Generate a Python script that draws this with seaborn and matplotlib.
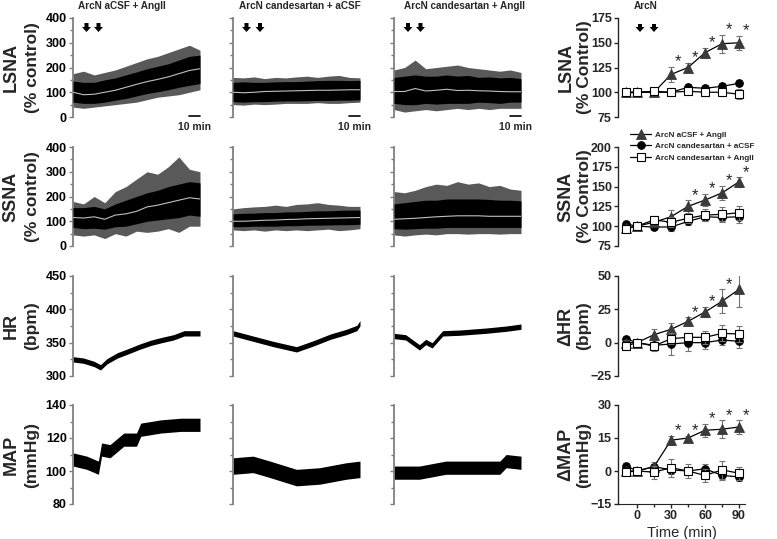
import numpy as np
import matplotlib
matplotlib.use("Agg")
import matplotlib.pyplot as plt
from matplotlib.patches import Polygon
from matplotlib.lines import Line2D
import seaborn as sns

sns.set_style("ticks")
plt.rcParams["font.family"] = ["Liberation Sans", "DejaVu Sans"]
plt.rcParams["font.weight"] = "bold"

#****************************************
# Raw recordings (minutes): mean line + envelopes
t_nerve = [0, 10, 20, 30, 40, 50, 60, 70, 80, 90, 100, 110, 120]

lsna_mean = [[100, 90, 92, 100, 108, 120, 132, 143, 152, 162, 175, 188, 195],
             [100, 98, 100, 103, 104, 105, 106, 107, 108, 108, 109, 110, 110],
             [103, 103, 115, 105, 108, 112, 107, 108, 106, 105, 103, 102, 102]]
lsna_lo = [[60, 55, 55, 60, 68, 75, 85, 95, 102, 110, 120, 128, 135],
           [62, 60, 62, 62, 64, 65, 65, 66, 67, 67, 68, 68, 70],
           [55, 50, 50, 55, 52, 55, 55, 55, 60, 58, 55, 60, 60]]
lsna_hi = [[145, 140, 140, 150, 158, 170, 182, 195, 205, 215, 230, 245, 250],
           [140, 142, 140, 140, 142, 143, 143, 145, 147, 148, 148, 147, 148],
           [160, 165, 170, 165, 165, 170, 165, 168, 160, 162, 158, 160, 155]]
lsna_min = [[40, 35, 40, 45, 50, 55, 60, 70, 80, 85, 90, 100, 110],
            [50, 48, 52, 50, 52, 55, 55, 55, 58, 55, 55, 58, 60],
            [30, 20, 25, 30, 25, 30, 35, 30, 35, 30, 35, 35, 35]]
lsna_max = [[175, 185, 170, 180, 190, 205, 220, 235, 245, 260, 275, 290, 270],
            [160, 158, 162, 155, 160, 158, 162, 165, 160, 165, 168, 160, 158],
            [190, 200, 230, 195, 200, 205, 210, 200, 195, 190, 185, 190, 180]]

ssna_mean = [[115, 113, 118, 108, 125, 130, 140, 158, 165, 175, 185, 195, 190],
             [100, 100, 102, 104, 105, 107, 108, 110, 111, 112, 113, 114, 115],
             [108, 110, 112, 115, 118, 120, 122, 122, 122, 120, 120, 120, 120]]
ssna_lo = [[75, 70, 72, 68, 78, 80, 90, 100, 105, 110, 115, 125, 120],
           [78, 78, 80, 80, 80, 82, 82, 84, 84, 85, 86, 86, 88],
           [70, 68, 70, 72, 72, 75, 75, 75, 75, 75, 75, 75, 75]]
ssna_hi = [[155, 155, 160, 150, 170, 185, 200, 215, 225, 240, 250, 260, 255],
           [130, 132, 133, 135, 135, 138, 138, 140, 142, 142, 144, 145, 145],
           [170, 175, 180, 185, 185, 190, 190, 190, 190, 188, 185, 185, 182]]
ssna_min = [[45, 40, 45, 30, 50, 40, 60, 55, 60, 70, 55, 80, 80],
            [65, 62, 65, 60, 65, 62, 65, 62, 65, 68, 62, 65, 70],
            [45, 40, 45, 48, 45, 50, 50, 48, 50, 50, 48, 50, 50]]
ssna_max = [[180, 170, 200, 175, 220, 240, 270, 300, 290, 320, 360, 310, 300],
            [150, 155, 158, 160, 165, 160, 168, 170, 175, 168, 165, 160, 160],
            [220, 215, 225, 240, 250, 245, 260, 250, 255, 240, 245, 230, 225]]

hr_t = [[0, 10, 20, 26, 32, 42, 52, 63, 74, 84, 95, 105, 120],
        [0, 19, 38, 60, 76, 92, 107, 117, 120],
        [0, 11, 24, 30, 36, 46, 62, 87, 106, 120]]
hr_val = [[325, 323, 318, 313, 322, 331, 337, 344, 350, 354, 358, 364, 364],
          [364, 356, 348, 340, 349, 359, 366, 372, 379],
          [360, 358, 343, 351, 346, 364, 365, 368, 371, 374]]
hr_half = 4

map_t = [[0, 13, 24, 27, 35, 48, 60, 64, 83, 102, 120],
         [0, 19, 35, 60, 82, 107, 120],
         [0, 24, 49, 71, 100, 106, 120]]
map_val = [[107, 105, 102, 113, 112, 119, 119, 125, 127, 128, 128],
           [103, 104, 101, 96, 97, 100, 101],
           [99, 99, 102, 102, 102, 106, 105]]
map_half = [4, 5, 4]

#****************************************
# Group data (mean +/- SEM)
time = [-10, 0, 15, 30, 45, 60, 75, 90]

lsna_tri = [100, 100, 100, 118, 125, 140, 149, 150]
lsna_tri_sem = [2, 2, 3, 8, 5, 5, 9, 7]
lsna_circ = [99, 100, 100, 100, 105, 104, 106, 109]
lsna_circ_sem = [2, 2, 2, 2, 3, 3, 3, 3]
lsna_sq = [100, 100, 101, 100, 101, 100, 100, 98]
lsna_sq_sem = [2, 2, 3, 3, 3, 4, 4, 5]

ssna_tri = [98, 100, 105, 112, 125, 133, 142, 156]
ssna_tri_sem = [3, 3, 5, 9, 8, 8, 9, 6]
ssna_circ = [103, 100, 99, 99, 106, 112, 111, 112]
ssna_circ_sem = [3, 3, 4, 5, 4, 6, 6, 8]
ssna_sq = [97, 100, 108, 105, 110, 114, 115, 117]
ssna_sq_sem = [4, 3, 5, 6, 6, 8, 9, 9]

hr_tri = [0, 0, 6, 10, 16, 23, 31, 40]
hr_tri_sem = [2, 2, 4, 5, 3, 4, 9, 13]
hr_circ = [3, 0, -2, -1, 0, 0, 2, 1]
hr_circ_sem = [2, 2, 4, 8, 6, 5, 4, 5]
hr_sq = [-2.5, 0, -2.5, 3, 4, 4, 7, 6.5]
hr_sq_sem = [2, 2, 3, 4, 3, 5, 6, 6]

map_tri = [0, 0, 2, 14, 15, 18.5, 19, 20]
map_tri_sem = [1, 1, 2, 2, 1, 3, 4, 3]
map_circ = [2.5, 0, 2, 0.5, 0, 1, -2, -2.7]
map_circ_sem = [1, 1, 1, 2, 2, 2, 2, 2]
map_sq = [-0.5, 0, -0.5, 1.5, 0, -2, 0.5, -1]
map_sq_sem = [1, 1, 3, 4, 3, 3, 4, 3]

star_times = [[30, 45, 60, 75, 90], [45, 60, 75, 90], [45, 60, 75, 90], [30, 45, 60, 75, 90]]

titles = ["ArcN aCSF + AngII", "ArcN candesartan + aCSF", "ArcN candesartan + AngII"]
legend_labels = ["ArcN aCSF + AngII", "ArcN candesartan + aCSF", "ArcN candesartan + AngII"]
left_labels = [("LSNA", "(% control)"), ("SSNA", "(% control)"), ("HR", "(bpm)"), ("MAP", "(mmHg)")]
right_labels = [("LSNA", "(% Control)"), ("SSNA", "(% Control)"), ("\u0394HR", "(bpm)"), ("\u0394MAP", "(mmHg)")]

#****************************************
W, H = 777, 539
fig = plt.figure(figsize=(W / 100, H / 100), dpi=100)


def px_ax(x0, x1, y0, y1):
    return fig.add_axes([x0 / W, 1 - y1 / H, (x1 - x0) / W, (y1 - y0) / H])


def arrow(xc, ytop, ybot, shaft=4, head_w=9, head_l=5):
    pts = [(xc - shaft / 2, ytop), (xc + shaft / 2, ytop), (xc + shaft / 2, ybot - head_l),
           (xc + head_w / 2, ybot - head_l), (xc, ybot), (xc - head_w / 2, ybot - head_l),
           (xc - shaft / 2, ybot - head_l)]
    fig.add_artist(Polygon([(x / W, 1 - y / H) for x, y in pts], closed=True,
                           transform=fig.transFigure, color="black", lw=0))


col_x = [(73, 200), (233, 360), (394, 521)]
rows_y = [(18, 117), (147, 246), (276, 376), (405, 504)]
trace_lims = [(0, 400, 100, 50), (0, 400, 100, 50), (300, 450, 50, 25), (80, 140, 20, 10)]
GRAY = "#7f7f7f"

for c, (x0, x1) in enumerate(col_x):
    for r, (y0, y1) in enumerate(rows_y):
        ax = px_ax(x0, x1, y0, y1)
        if r == 0:
            sns.lineplot(x=t_nerve, y=lsna_mean[c], color="0.75", lw=0.8, ax=ax, zorder=4)
            ax.fill_between(t_nerve, lsna_min[c], lsna_max[c], color="0.35", lw=0, zorder=2)
            ax.fill_between(t_nerve, lsna_lo[c], lsna_hi[c], color="black", lw=0, zorder=3)
        elif r == 1:
            sns.lineplot(x=t_nerve, y=ssna_mean[c], color="0.75", lw=0.8, ax=ax, zorder=4)
            ax.fill_between(t_nerve, ssna_min[c], ssna_max[c], color="0.35", lw=0, zorder=2)
            ax.fill_between(t_nerve, ssna_lo[c], ssna_hi[c], color="black", lw=0, zorder=3)
        elif r == 2:
            v = np.array(hr_val[c])
            ax.fill_between(hr_t[c], v - hr_half, v + hr_half, color="black", lw=0)
        else:
            v = np.array(map_val[c])
            ax.fill_between(map_t[c], v - map_half[c], v + map_half[c], color="black", lw=0)
        lo, hi, major, minor = trace_lims[r]
        ax.set_xlim(0, 120)
        ax.set_ylim(lo, hi)
        ax.set_yticks(np.arange(lo, hi + 1, major))
        ax.set_yticks(np.arange(lo, hi + 1, minor), minor=True)
        ax.set_xticks([])
        for s in ["top", "right", "bottom"]:
            ax.spines[s].set_visible(False)
        ax.spines["left"].set_color(GRAY)
        ax.spines["left"].set_linewidth(1.3)
        ax.tick_params(axis="y", which="both", colors=GRAY, labelcolor="black",
                       direction="out", labelsize=9, length=3, width=1, pad=1.5)
        ax.tick_params(axis="y", which="minor", length=2)
        if c > 0:
            ax.tick_params(labelleft=False)
        ax.set_xlabel("")
        ax.set_ylabel("")
        if r == 0:
            # 10 min scale bar
            ax.plot([110, 120], [0.012, 0.012], color="black", lw=1.2,
                    transform=ax.get_xaxis_transform(), clip_on=False)
            ax.text(115, -0.1, "10 min", ha="center", va="center", fontsize=7.5,
                    transform=ax.get_xaxis_transform())

# column titles and arrows
for cx, title in zip([122, 300, 465], titles):
    fig.text(cx / W, 1 - 6 / H, title, ha="center", va="center", fontsize=7.2)
for xa in [86.5, 98.5, 246.5, 260, 408, 420.5]:
    arrow(xa, 23, 32)
fig.text(646 / W, 1 - 6 / H, "ArcN", ha="center", va="center", fontsize=7.2)
for xa in [640, 654]:
    arrow(xa, 24, 32)

#****************************************
# Right-hand group panels
right_data = [(lsna_tri, lsna_tri_sem, lsna_circ, lsna_circ_sem, lsna_sq, lsna_sq_sem),
              (ssna_tri, ssna_tri_sem, ssna_circ, ssna_circ_sem, ssna_sq, ssna_sq_sem),
              (hr_tri, hr_tri_sem, hr_circ, hr_circ_sem, hr_sq, hr_sq_sem),
              (map_tri, map_tri_sem, map_circ, map_circ_sem, map_sq, map_sq_sem)]
right_lims = [(75, 175, 25), (75, 200, 25), (-25, 50, 25), (-15, 30, 15)]

tri_kw = dict(marker="^", markersize=7.2, markerfacecolor="#3a3a3a", markeredgecolor="#3a3a3a", mew=0.6)
circ_kw = dict(marker="o", markersize=5.6, markerfacecolor="black", markeredgecolor="black", mew=0.6)
sq_kw = dict(marker="s", markersize=5.2, markerfacecolor="white", markeredgecolor="black", mew=0.8)

for r, (y0, y1) in enumerate(rows_y):
    ax = px_ax(618, 745, y0, y1)
    tri, tri_e, circ, circ_e, sq, sq_e = right_data[r]
    for vals, errs, kw, z in [(circ, circ_e, circ_kw, 3), (tri, tri_e, tri_kw, 4), (sq, sq_e, sq_kw, 5)]:
        ax.errorbar(time, vals, yerr=errs, fmt="none", ecolor="0.45", elinewidth=0.8,
                    capsize=2, capthick=0.8, zorder=z - 0.5)
        sns.lineplot(x=time, y=vals, color="black", lw=0.9, ax=ax, zorder=z, **kw)
    for ts in star_times[r]:
        i = time.index(ts)
        ax.annotate("*", (ts, tri[i] + tri_e[i]), xytext=(5, -2), textcoords="offset points",
                    ha="center", va="bottom", fontsize=12, fontweight="normal")
    lo, hi, step = right_lims[r]
    ax.set_xlim(-16.8, 95.3)
    ax.set_ylim(lo, hi)
    ax.set_yticks(np.arange(lo, hi + 1, step))
    for s in ["top", "right"]:
        ax.spines[s].set_visible(False)
    ax.spines["left"].set_linewidth(1)
    ax.tick_params(axis="both", which="both", direction="out", labelsize=9, length=3, width=1, pad=1.5)
    if r == 3:
        ax.set_xticks([0, 30, 60, 90])
        ax.set_xticks([15, 45, 75], minor=True)
        ax.tick_params(axis="x", which="minor", length=2)
        ax.set_xlabel("Time (min)", fontsize=10.5, labelpad=2.5)
    else:
        ax.spines["bottom"].set_visible(False)
        ax.set_xticks([])
        ax.set_xlabel("")
    ax.set_ylabel("")

# row labels
for r, (y0, y1) in enumerate(rows_y):
    yc = 1 - ((y0 + y1) / 2) / H
    fig.text(11 / W, yc, left_labels[r][0], rotation=90, ha="center", va="center", fontsize=13)
    fig.text(32 / W, yc, left_labels[r][1], rotation=90, ha="center", va="center", fontsize=12.5)
    fig.text(566 / W, yc, right_labels[r][0], rotation=90, ha="center", va="center", fontsize=13)
    fig.text(584 / W, yc, right_labels[r][1], rotation=90, ha="center", va="center", fontsize=12.5)

# legend
handles = [Line2D([], [], color="black", lw=0.9, **tri_kw),
           Line2D([], [], color="black", lw=0.9, **circ_kw),
           Line2D([], [], color="black", lw=0.9, **sq_kw)]
fig.legend(handles, legend_labels, loc="upper left", bbox_to_anchor=(630 / W, 1 - 131 / H),
           frameon=False, fontsize=5.9, handlelength=2.6, handletextpad=0.5,
           labelspacing=0.45, borderpad=0, borderaxespad=0)

fig.savefig("out.png", dpi=100)
